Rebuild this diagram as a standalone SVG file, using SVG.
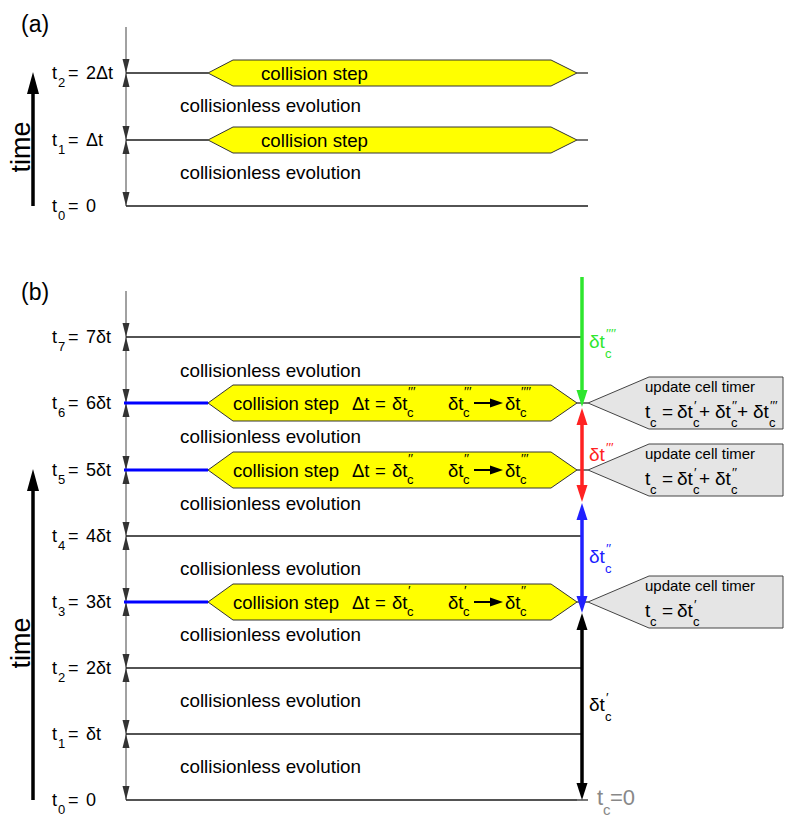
<svg xmlns="http://www.w3.org/2000/svg" width="789" height="824" viewBox="0 0 789 824">
<style>
text{font-family:"Liberation Sans",Arial,Helvetica,sans-serif;fill:#000}
.lab{font-size:18px}
.sub{font-size:13px}
.sup{font-size:13.5px;letter-spacing:0px}
.ev{font-size:18.5px}
.cs{font-size:18.5px}
.upd{font-size:15px}
.fm{font-size:19px}
.big{font-size:23px}
.tm{font-size:27px}
.ln{stroke:#1a1a1a;stroke-width:1.5;fill:none}
.ax{stroke:#444;stroke-width:1;fill:none}
.bl{stroke:#0000ff;stroke-width:3}
.tick{stroke:#777;stroke-width:2}
.step{fill:#ffff00;stroke:#333;stroke-width:1}
.upbox{fill:#e5e5e5;stroke:#444;stroke-width:1}
.ah{fill:#333}
.vl{stroke-width:3.5;fill:none}
</style>
<defs>
<path id="ad" d="M-3.5,-14L3.5,-14L0,0Z"/>
<path id="au" d="M-3.5,14L3.5,14L0,0Z"/>
<path id="hd" d="M-5.5,-17L5.5,-17L0,0Z"/>
<path id="hu" d="M-5.5,17L5.5,17L0,0Z"/>
<path id="th" d="M-6,22L6,22L0,0Z"/>
</defs>

<!-- panel labels -->
<g id="panel-a-label"><text class="big" x="21" y="32">(a)</text></g>
<g id="panel-b-label"><text class="big" x="21" y="300">(b)</text></g>

<!-- connectors -->
<g id="connectors">
  <!-- time arrows -->
  <line x1="33" y1="206" x2="33" y2="90" stroke="#000" stroke-width="3.5"/>
  <use href="#th" x="33" y="72" fill="#000"/>
  <line x1="33" y1="800" x2="33" y2="487" stroke="#000" stroke-width="3.5"/>
  <use href="#th" x="33" y="469" fill="#000"/>

  <!-- axis (a) -->
  <line class="ax" x1="126" y1="27" x2="126" y2="206"/>
  <g class="ah">
    <use href="#ad" x="126" y="73"/><use href="#au" x="126" y="73"/>
    <use href="#ad" x="126" y="140"/><use href="#au" x="126" y="140"/>
    <use href="#ad" x="126" y="206"/>
  </g>
  <!-- axis (b) -->
  <line class="ax" x1="126" y1="291" x2="126" y2="800"/>
  <g class="ah">
    <use href="#ad" x="126" y="337"/><use href="#au" x="126" y="337"/>
    <use href="#ad" x="126" y="403"/><use href="#au" x="126" y="403"/>
    <use href="#ad" x="126" y="470"/><use href="#au" x="126" y="470"/>
    <use href="#ad" x="126" y="536"/><use href="#au" x="126" y="536"/>
    <use href="#ad" x="126" y="602"/><use href="#au" x="126" y="602"/>
    <use href="#ad" x="126" y="668"/><use href="#au" x="126" y="668"/>
    <use href="#ad" x="126" y="734"/><use href="#au" x="126" y="734"/>
    <use href="#ad" x="126" y="800"/>
  </g>

  <!-- horizontal lines (a) -->
  <line class="ln" x1="126" y1="73" x2="208" y2="73"/>
  <line class="ln" x1="126" y1="140" x2="208" y2="140"/>
  <line class="ln" x1="126" y1="206" x2="588" y2="206"/>
  <line class="tick" x1="577" y1="73" x2="588" y2="73"/>
  <line class="tick" x1="577" y1="140" x2="588" y2="140"/>

  <!-- horizontal lines (b) -->
  <line class="ln" x1="126" y1="337" x2="582" y2="337"/>
  <line class="bl" x1="124" y1="403" x2="208" y2="403"/>
  <line class="bl" x1="124" y1="470" x2="208" y2="470"/>
  <line class="ln" x1="126" y1="536" x2="582" y2="536"/>
  <line class="bl" x1="124" y1="602" x2="208" y2="602"/>
  <line class="ln" x1="126" y1="668" x2="582" y2="668"/>
  <line class="ln" x1="126" y1="734" x2="582" y2="734"/>
  <line class="ln" x1="126" y1="800" x2="582" y2="800"/>
  <line class="tick" x1="577" y1="403" x2="588" y2="403"/>
  <line class="tick" x1="577" y1="470" x2="588" y2="470"/>
  <line class="tick" x1="577" y1="602" x2="588" y2="602"/>
  <line class="tick" x1="577" y1="800" x2="588" y2="800"/>

  <!-- cell timer arrows -->
  <line class="vl" stroke="#2ee62e" x1="582" y1="277" x2="582" y2="392"/>
  <use href="#hd" x="582" y="407" fill="#2ee62e"/>
  <line class="vl" stroke="#ff2222" x1="582" y1="422" x2="582" y2="488"/>
  <use href="#hu" x="582" y="408" fill="#ff2222"/>
  <use href="#hd" x="582" y="502" fill="#ff2222"/>
  <line class="vl" stroke="#2020ff" x1="582" y1="518" x2="582" y2="598"/>
  <use href="#hu" x="582" y="503" fill="#2020ff"/>
  <use href="#hd" x="582" y="613" fill="#2020ff"/>
  <line class="vl" stroke="#000" x1="582" y1="628" x2="582" y2="785"/>
  <use href="#hu" x="582" y="613" fill="#000"/>
  <use href="#hd" x="582" y="800" fill="#000"/>
</g>

<!-- time labels -->
<g id="time-a"><text class="tm" text-anchor="middle" transform="translate(30,147) rotate(-90)">time</text></g>
<g id="time-b"><text class="tm" text-anchor="middle" transform="translate(30,643) rotate(-90)">time</text></g>

<!-- left tick labels (a) -->
<g id="a-t2"><text class="lab" x="52" y="79">t</text><text class="sub" x="58" y="87">2</text><text class="lab" x="68" y="79">=</text><text class="lab" x="86" y="79">2Δt</text></g>
<g id="a-t1"><text class="lab" x="52" y="146">t</text><text class="sub" x="58" y="154">1</text><text class="lab" x="68" y="146">=</text><text class="lab" x="86" y="146">Δt</text></g>
<g id="a-t0"><text class="lab" x="52" y="212">t</text><text class="sub" x="58" y="220">0</text><text class="lab" x="68" y="212">=</text><text class="lab" x="86" y="212">0</text></g>

<!-- left tick labels (b) -->
<g id="b-t7"><text class="lab" x="52" y="343">t</text><text class="sub" x="58" y="351">7</text><text class="lab" x="68" y="343">=</text><text class="lab" x="86" y="343">7δt</text></g>
<g id="b-t6"><text class="lab" x="52" y="409">t</text><text class="sub" x="58" y="417">6</text><text class="lab" x="68" y="409">=</text><text class="lab" x="86" y="409">6δt</text></g>
<g id="b-t5"><text class="lab" x="52" y="476">t</text><text class="sub" x="58" y="484">5</text><text class="lab" x="68" y="476">=</text><text class="lab" x="86" y="476">5δt</text></g>
<g id="b-t4"><text class="lab" x="52" y="542">t</text><text class="sub" x="58" y="550">4</text><text class="lab" x="68" y="542">=</text><text class="lab" x="86" y="542">4δt</text></g>
<g id="b-t3"><text class="lab" x="52" y="608">t</text><text class="sub" x="58" y="616">3</text><text class="lab" x="68" y="608">=</text><text class="lab" x="86" y="608">3δt</text></g>
<g id="b-t2"><text class="lab" x="52" y="674">t</text><text class="sub" x="58" y="682">2</text><text class="lab" x="68" y="674">=</text><text class="lab" x="86" y="674">2δt</text></g>
<g id="b-t1"><text class="lab" x="52" y="740">t</text><text class="sub" x="58" y="748">1</text><text class="lab" x="68" y="740">=</text><text class="lab" x="86" y="740">δt</text></g>
<g id="b-t0"><text class="lab" x="52" y="806">t</text><text class="sub" x="58" y="814">0</text><text class="lab" x="68" y="806">=</text><text class="lab" x="86" y="806">0</text></g>

<!-- collisionless evolution labels -->
<g id="evolution-labels">
  <text class="ev" x="180" y="112" textLength="181" lengthAdjust="spacingAndGlyphs">collisionless evolution</text>
  <text class="ev" x="180" y="179" textLength="181" lengthAdjust="spacingAndGlyphs">collisionless evolution</text>
  <text class="ev" x="180" y="377" textLength="181" lengthAdjust="spacingAndGlyphs">collisionless evolution</text>
  <text class="ev" x="180" y="443" textLength="181" lengthAdjust="spacingAndGlyphs">collisionless evolution</text>
  <text class="ev" x="180" y="510" textLength="181" lengthAdjust="spacingAndGlyphs">collisionless evolution</text>
  <text class="ev" x="180" y="575" textLength="181" lengthAdjust="spacingAndGlyphs">collisionless evolution</text>
  <text class="ev" x="180" y="641" textLength="181" lengthAdjust="spacingAndGlyphs">collisionless evolution</text>
  <text class="ev" x="180" y="707" textLength="181" lengthAdjust="spacingAndGlyphs">collisionless evolution</text>
  <text class="ev" x="180" y="773" textLength="181" lengthAdjust="spacingAndGlyphs">collisionless evolution</text>
</g>

<!-- collision steps (a) -->
<g id="a-step2">
  <polygon class="step" points="208,73 233,60 551,60 577,73 551,86 233,86"/>
  <text class="cs" x="261" y="80" textLength="107" lengthAdjust="spacingAndGlyphs">collision step</text>
</g>
<g id="a-step1">
  <polygon class="step" points="208,140 233,127 551,127 577,140 551,153 233,153"/>
  <text class="cs" x="261" y="147" textLength="107" lengthAdjust="spacingAndGlyphs">collision step</text>
</g>

<!-- collision steps (b) -->
<g id="b-step6">
  <polygon class="step" points="208,403 233,385 551,385 577,403 551,421 233,421"/>
  <text class="cs" x="233" y="409.5" textLength="106" lengthAdjust="spacingAndGlyphs">collision step</text>
  <text class="cs" x="352" y="409.5">Δt</text><text class="cs" x="375" y="409.5">=</text>
  <text class="cs" x="392" y="409.5">δt</text><text class="sup" x="408" y="396">′′′</text><text class="sub" x="407" y="417">c</text>
  <text class="cs" x="448" y="409.5">δt</text><text class="sup" x="464" y="396">′′′</text><text class="sub" x="463" y="417">c</text>
  <line x1="474" y1="403" x2="492" y2="403" stroke="#000" stroke-width="2"/>
  <polygon points="490,398.5 503,403 490,407.5" fill="#000"/>
  <text class="cs" x="505" y="409.5">δt</text><text class="sup" x="521" y="396">′′′′</text><text class="sub" x="520" y="417">c</text>
</g>
<g id="b-step5">
  <polygon class="step" points="208,470 233,452 551,452 577,470 551,488 233,488"/>
  <text class="cs" x="233" y="476.5" textLength="106" lengthAdjust="spacingAndGlyphs">collision step</text>
  <text class="cs" x="352" y="476.5">Δt</text><text class="cs" x="375" y="476.5">=</text>
  <text class="cs" x="392" y="476.5">δt</text><text class="sup" x="408" y="463">′′</text><text class="sub" x="407" y="484">c</text>
  <text class="cs" x="448" y="476.5">δt</text><text class="sup" x="464" y="463">′′</text><text class="sub" x="463" y="484">c</text>
  <line x1="474" y1="470" x2="492" y2="470" stroke="#000" stroke-width="2"/>
  <polygon points="490,465.5 503,470 490,474.5" fill="#000"/>
  <text class="cs" x="505" y="476.5">δt</text><text class="sup" x="521" y="463">′′′</text><text class="sub" x="520" y="484">c</text>
</g>
<g id="b-step3">
  <polygon class="step" points="208,602 233,584 551,584 577,602 551,620 233,620"/>
  <text class="cs" x="233" y="608.5" textLength="106" lengthAdjust="spacingAndGlyphs">collision step</text>
  <text class="cs" x="352" y="608.5">Δt</text><text class="cs" x="375" y="608.5">=</text>
  <text class="cs" x="392" y="608.5">δt</text><text class="sup" x="408" y="595">′</text><text class="sub" x="407" y="616">c</text>
  <text class="cs" x="448" y="608.5">δt</text><text class="sup" x="464" y="595">′</text><text class="sub" x="463" y="616">c</text>
  <line x1="474" y1="602" x2="492" y2="602" stroke="#000" stroke-width="2"/>
  <polygon points="490,597.5 503,602 490,606.5" fill="#000"/>
  <text class="cs" x="505" y="608.5">δt</text><text class="sup" x="521" y="595">′′</text><text class="sub" x="520" y="616">c</text>
</g>

<!-- update cell timer boxes -->
<g id="update-6">
  <polygon class="upbox" points="588,403 649,377 783,377 783,429 649,429"/>
  <text class="upd" x="645" y="392">update cell timer</text>
  <text class="fm" x="645" y="418">t</text><text class="sub" x="650" y="427">c</text>
  <text class="fm" x="662" y="418">=</text>
  <text class="fm" x="677" y="418">δt</text><text class="sup" x="694" y="410">′</text><text class="sub" x="693" y="427">c</text>
  <text class="fm" x="699" y="418">+</text>
  <text class="fm" x="715" y="418">δt</text><text class="sup" x="732" y="410">′′</text><text class="sub" x="731" y="427">c</text>
  <text class="fm" x="737" y="418">+</text>
  <text class="fm" x="753" y="418">δt</text><text class="sup" x="770" y="410">′′′</text><text class="sub" x="769" y="427">c</text>
</g>
<g id="update-5">
  <polygon class="upbox" points="588,470 649,444 783,444 783,496 649,496"/>
  <text class="upd" x="645" y="459">update cell timer</text>
  <text class="fm" x="645" y="485">t</text><text class="sub" x="650" y="494">c</text>
  <text class="fm" x="662" y="485">=</text>
  <text class="fm" x="677" y="485">δt</text><text class="sup" x="694" y="477">′</text><text class="sub" x="693" y="494">c</text>
  <text class="fm" x="699" y="485">+</text>
  <text class="fm" x="715" y="485">δt</text><text class="sup" x="732" y="477">′′</text><text class="sub" x="731" y="494">c</text>
</g>
<g id="update-3">
  <polygon class="upbox" points="588,602 649,576 783,576 783,628 649,628"/>
  <text class="upd" x="645" y="591">update cell timer</text>
  <text class="fm" x="645" y="617">t</text><text class="sub" x="650" y="626">c</text>
  <text class="fm" x="662" y="617">=</text>
  <text class="fm" x="677" y="617">δt</text><text class="sup" x="694" y="609">′</text><text class="sub" x="693" y="626">c</text>
</g>

<!-- cell timer interval labels -->
<g id="dt4">
  <text class="fm" x="589" y="348" style="fill:#2ee62e">δt</text><text class="sup" x="606" y="338" style="fill:#2ee62e">′′′′</text><text class="sub" x="605" y="358" style="fill:#2ee62e">c</text>
</g>
<g id="dt3">
  <text class="fm" x="589" y="461" style="fill:#ff2222">δt</text><text class="sup" x="606" y="452" style="fill:#ff2222">′′′</text>
</g>
<g id="dt2">
  <text class="fm" x="589" y="563" style="fill:#2020ff">δt</text><text class="sup" x="606" y="553" style="fill:#2020ff">′′</text><text class="sub" x="605" y="573" style="fill:#2020ff">c</text>
</g>
<g id="dt1">
  <text class="fm" x="589" y="711">δt</text><text class="sup" x="606" y="702">′</text><text class="sub" x="605" y="721">c</text>
</g>
<g id="tc0">
  <text x="597" y="805" style="font-size:22px;fill:#888">t</text><text x="603" y="815" style="font-size:15px;fill:#888">c</text><text x="610" y="805" style="font-size:22px;fill:#888">=0</text>
</g>
</svg>
